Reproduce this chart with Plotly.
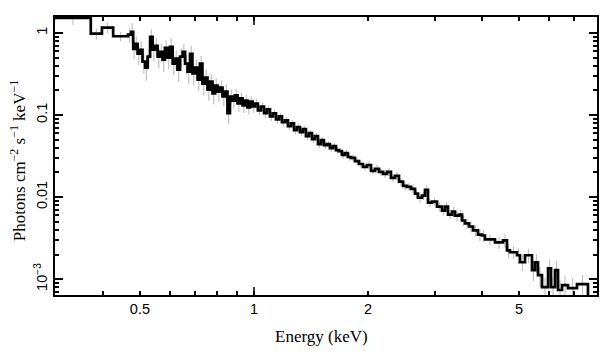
import numpy as np
import plotly.graph_objects as go

# Bin edges (keV)
energy_edges = [
    0.2985, 0.371, 0.397, 0.425, 0.465,
    0.474, 0.480, 0.485, 0.493, 0.500, 0.508, 0.516, 0.524, 0.532, 0.540,
    0.548, 0.557, 0.565, 0.574, 0.582, 0.591, 0.600, 0.610, 0.619, 0.628,
    0.638, 0.648, 0.658, 0.668, 0.678, 0.688, 0.699, 0.710, 0.720, 0.731,
    0.743, 0.754, 0.766, 0.777, 0.789, 0.801, 0.814, 0.826, 0.839, 0.851,
    0.864, 0.878, 0.891, 0.905, 0.919, 0.933, 0.947, 0.961, 0.976, 0.991,
    1.006, 1.024, 1.043, 1.063, 1.082, 1.102, 1.122, 1.143, 1.164, 1.185,
    1.207, 1.229, 1.252, 1.275, 1.298, 1.322, 1.346, 1.371, 1.396, 1.422,
    1.448, 1.475, 1.502, 1.529, 1.557, 1.586, 1.615, 1.645, 1.675, 1.706,
    1.737, 1.769, 1.803,
    1.847, 1.892, 1.939, 1.987, 2.036, 2.086, 2.137, 2.190, 2.243, 2.298,
    2.355, 2.413, 2.473, 2.533, 2.596, 2.660, 2.708, 2.775, 2.826, 2.878,
    2.949, 3.040, 3.133, 3.192, 3.250, 3.330, 3.392, 3.475, 3.539, 3.604,
    3.693, 3.784,
    3.899, 3.995, 4.069, 4.324, 4.539, 4.650, 4.736, 4.942, 5.033, 5.188,
    5.413, 5.513, 5.614, 5.753, 5.968, 6.077, 6.226, 6.341, 6.498, 6.738,
    7.116, 7.607,
]

# Photons cm^-2 s^-1 keV^-1 per bin
flux = [
    1.52, 0.98, 1.16, 0.91, 0.95,
    1.03, 0.640, 0.736, 0.557, 0.623, 0.446, 0.377, 0.513, 0.895, 0.623,
    0.696, 0.513, 0.589, 0.472, 0.658, 0.499, 0.677, 0.422, 0.485, 0.357,
    0.513, 0.589, 0.422, 0.338, 0.557, 0.320, 0.377, 0.270, 0.422, 0.241,
    0.286, 0.204, 0.255, 0.183, 0.228, 0.193, 0.216, 0.168, 0.193, 0.105,
    0.168, 0.150, 0.173, 0.138, 0.159, 0.131, 0.150, 0.124, 0.146, 0.127,
    0.138, 0.114, 0.127, 0.105, 0.117, 0.0964, 0.105, 0.0887, 0.0964, 0.0816,
    0.0863, 0.0730, 0.0794, 0.0653, 0.0710, 0.0618, 0.0672, 0.0552, 0.0601, 0.0508,
    0.0552, 0.0442, 0.0494, 0.0430, 0.0442, 0.0395, 0.0418, 0.0374, 0.0364, 0.0326,
    0.0344, 0.0308,
    0.0300, 0.0275, 0.0253, 0.0233, 0.0246, 0.0209, 0.0221, 0.0203, 0.0192, 0.0203,
    0.0172, 0.0182, 0.0154, 0.0137, 0.0133, 0.0126, 0.0110, 0.00983, 0.0104, 0.0123,
    0.00855, 0.00879, 0.00765, 0.00685, 0.00765, 0.00613, 0.00666, 0.00596, 0.00613, 0.00519,
    0.00478, 0.00439,
    0.00393, 0.00350, 0.00341, 0.00305, 0.00281, 0.00297, 0.00225, 0.00213, 0.00196, 0.00161,
    0.00196, 0.00129, 0.00161, 0.00112, 0.000803, 0.00136, 0.000803, 0.00129, 0.000739, 0.000849,
    0.000781, 0.000873,
]

# Relative 1-sigma errors per bin
rel_err = [
    0.18, 0.15, 0.14, 0.13, 0.20,
    0.28, 0.26, 0.24, 0.27, 0.25, 0.28, 0.30, 0.26, 0.24, 0.27,
    0.25, 0.28, 0.26, 0.29, 0.24, 0.27, 0.25, 0.28, 0.26, 0.29,
    0.26, 0.25, 0.27, 0.29, 0.24, 0.28, 0.26, 0.27, 0.24, 0.28,
    0.25, 0.27, 0.24, 0.26, 0.23, 0.25, 0.22, 0.24, 0.22, 0.26,
    0.21, 0.20, 0.19, 0.21, 0.18, 0.19, 0.17, 0.18, 0.16, 0.17,
    0.14, 0.13, 0.12, 0.13, 0.11, 0.12, 0.11, 0.12, 0.10, 0.11,
    0.10, 0.11, 0.10, 0.11, 0.09, 0.10, 0.09, 0.10, 0.09, 0.10,
    0.09, 0.10, 0.09, 0.10, 0.09, 0.10, 0.09, 0.10, 0.09, 0.10,
    0.10, 0.10,
    0.10, 0.10, 0.11, 0.10, 0.11, 0.10, 0.11, 0.10, 0.11, 0.11,
    0.11, 0.12, 0.11, 0.12, 0.11, 0.12, 0.12, 0.13, 0.12, 0.13,
    0.12, 0.12, 0.13, 0.13, 0.14, 0.13, 0.14, 0.14, 0.15, 0.14,
    0.15, 0.15,
    0.16, 0.17, 0.17, 0.15, 0.17, 0.19, 0.20, 0.18, 0.22, 0.22,
    0.20, 0.26, 0.25, 0.28, 0.32, 0.28, 0.32, 0.30, 0.34, 0.30,
    0.30, 0.30,
]

edges = np.array(energy_edges)
f = np.array(flux)
centers = np.sqrt(edges[:-1] * edges[1:])
err = f * np.array(rel_err)

fig = go.Figure()

fig.add_trace(go.Scatter(
    x=centers, y=f, mode="markers",
    marker=dict(size=1, color="rgba(0,0,0,0)"),
    error_y=dict(type="data", array=err, color="#c2c2c2", thickness=1.2, width=0),
    showlegend=False, hoverinfo="skip",
))

floor_y = 1e-4
step_x = list(energy_edges) + [energy_edges[-1]]
step_y = list(flux) + [flux[-1], floor_y]
fig.add_trace(go.Scatter(
    x=step_x, y=step_y, mode="lines",
    line=dict(shape="hv", color="black", width=2.7),
    showlegend=False, hoverinfo="skip",
))

x_lo, x_hi = np.log10(0.2985), 0.905
y_lo, y_hi = -3.192, 0.1935

tickfont = dict(family="Liberation Sans, Arial, sans-serif", size=14.5, color="black")
titlefont = dict(family="Liberation Serif, Times New Roman, serif", size=17, color="black")

x_minor = [0.3, 0.4, 0.6, 0.7, 0.8, 0.9, 3, 4, 6, 7, 8]
y_minor = [m * d for d in (1e-4, 1e-3, 1e-2, 1e-1) for m in range(2, 10)]

# page body has an 8px default margin: plot area spans x 55..597, y 15..295
fig.update_layout(
    width=600, height=349,
    margin=dict(l=47, r=11, t=7, b=62),
    paper_bgcolor="white", plot_bgcolor="white",
    xaxis=dict(
        type="log", range=[x_lo, x_hi],
        tickmode="array", tickvals=[0.5, 1, 2, 5], ticktext=["0.5", "1", "2", "5"],
        ticks="inside", ticklen=4, tickwidth=1.5, tickcolor="black",
        showline=True, linecolor="black", linewidth=1.6, mirror="ticks",
        showgrid=False, zeroline=False, tickfont=tickfont,
        minor=dict(tickmode="array", tickvals=x_minor, ticks="inside",
                   ticklen=4, tickwidth=1.5, tickcolor="black", showgrid=False),
    ),
    yaxis=dict(
        type="log", range=[y_lo, y_hi],
        tickmode="array", tickvals=[0.001, 0.01, 0.1, 1],
        ticktext=["10<sup>\u22123</sup>", "0.01", "0.1", "1"],
        tickangle=-90,
        ticks="inside", ticklen=8, tickwidth=1.5, tickcolor="black",
        showline=True, linecolor="black", linewidth=1.6, mirror="ticks",
        showgrid=False, zeroline=False, tickfont=tickfont,
        minor=dict(tickmode="array", tickvals=y_minor, ticks="inside",
                   ticklen=4, tickwidth=1.5, tickcolor="black", showgrid=False),
    ),
    shapes=[
        dict(type="line", xref="x", yref="paper", x0=1, x1=1, y0=0, y1=8 / 280,
             line=dict(color="black", width=1.5)),
        dict(type="line", xref="x", yref="paper", x0=1, x1=1, y0=1, y1=1 - 8 / 280,
             line=dict(color="black", width=1.5)),
    ],
    annotations=[
        dict(text="Energy (keV)", xref="paper", yref="paper", x=0.491, y=-0.15,
             xanchor="center", yanchor="middle", showarrow=False, font=titlefont),
        dict(text="Photons cm<sup>\u22122</sup> s<sup>\u22121</sup> keV<sup>\u22121</sup>",
             xref="paper", yref="paper", x=-0.068, y=0.482, textangle=-90,
             xanchor="center", yanchor="middle", showarrow=False, font=titlefont),
    ],
)

fig.write_html("out.html")
